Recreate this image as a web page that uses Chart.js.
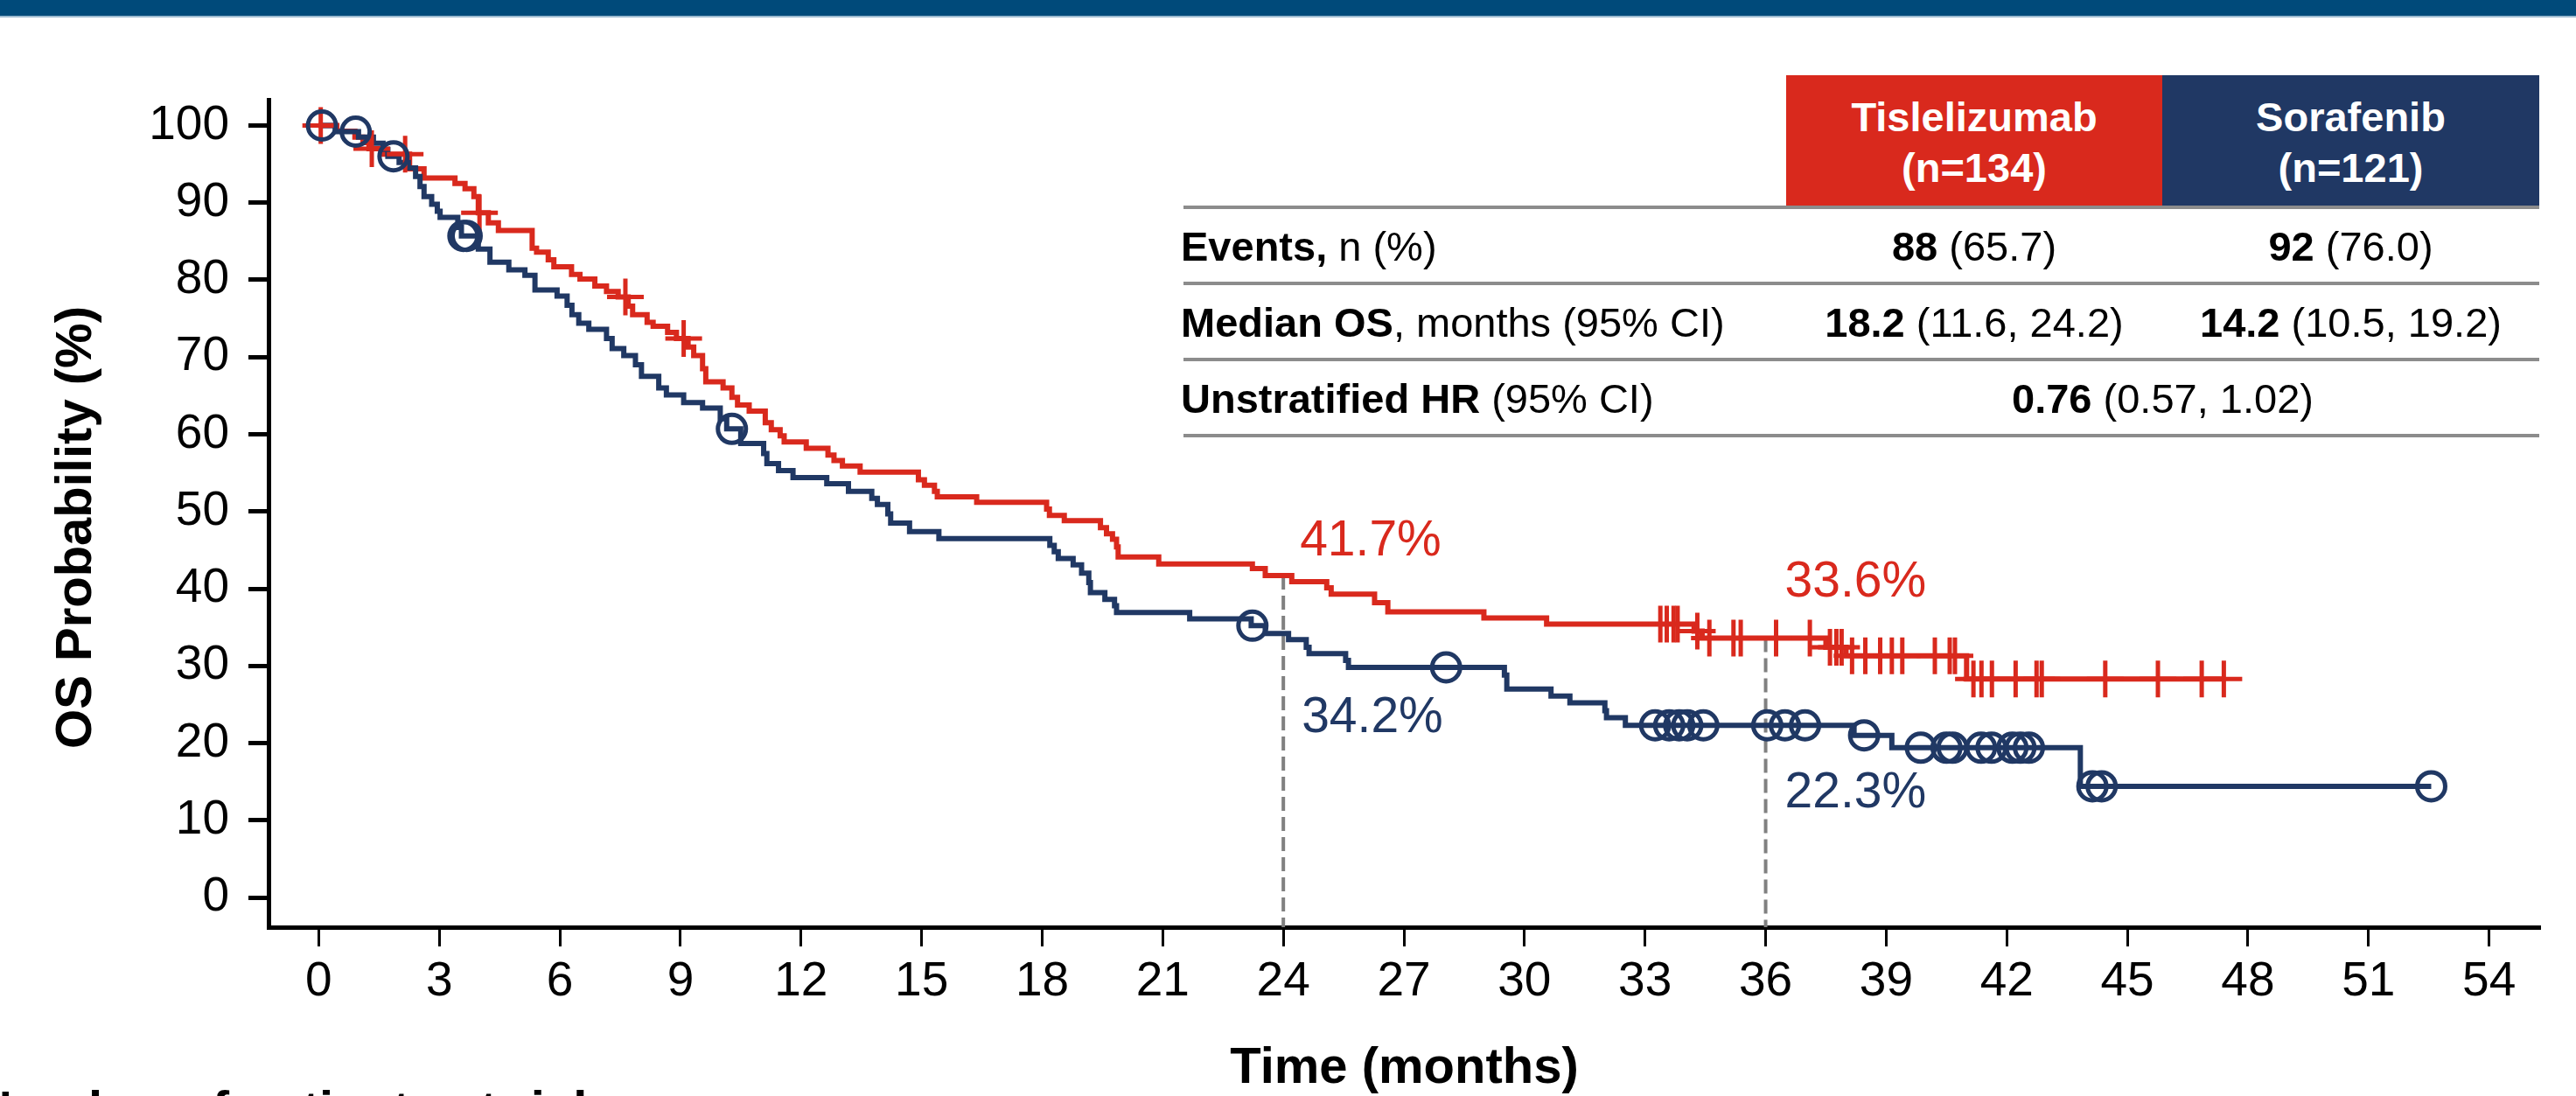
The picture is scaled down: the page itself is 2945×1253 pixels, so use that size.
<!DOCTYPE html>
<html>
<head>
<meta charset="utf-8">
<script src="https://cdn.jsdelivr.net/npm/chart.js@4.4.1/dist/chart.umd.min.js"></script>
<style>
    html, body { margin: 0; padding: 0; background: #fff; }
    #wrap { position: relative; width: 2945px; height: 1253px; overflow: hidden; font-family: "Liberation Sans", Arial, sans-serif; }
    #chart { position: absolute; left: 0; top: 0; }
    .banner { position: absolute; left: 0; top: 0; width: 2945px; height: 18px; background: #004a7a; border-bottom: 2px solid #9dbbd0; }
    .t { position: absolute; font-size: 47px; line-height: 47px; white-space: nowrap; color: #000; }
</style>
</head>
<body>
<div id="wrap">
    <canvas id="chart" width="2945" height="1253"></canvas>
    <div class="banner"></div>
    <div id="tbl"></div>
</div>
<script>
// ---- data ----
var xTicks = [0, 3, 6, 9, 12, 15, 18, 21, 24, 27, 30, 33, 36, 39, 42, 45, 48, 51, 54];
var yTicks = [0, 10, 20, 30, 40, 50, 60, 70, 80, 90, 100];

// Tislelizumab (red): time of each drop, survival after it
var tisTime = [0, 0.45, 0.9, 1.1, 1.25, 1.6, 2.26, 2.62, 3.39, 3.64, 3.86, 3.97, 4.22, 4.47, 5.31, 5.42, 5.71, 5.85,
    6.29, 6.5, 6.87, 7.16, 7.45, 7.7, 7.81, 8.17, 8.32, 8.68, 8.9, 9.19, 9.33, 9.55, 9.63, 10.06, 10.28, 10.42,
    10.71, 11.11, 11.26, 11.48, 11.58, 12.13, 12.67, 12.82, 13.03, 13.47, 14.92, 15.07, 15.32, 15.39, 16.37,
    18.11, 18.18, 18.55, 19.45, 19.6, 19.75, 19.85, 19.89, 20.9, 23.23, 23.55, 24.21, 25.08, 25.19, 26.27, 26.6,
    28.99, 30.55, 34.22, 34.42, 37.5, 38.0, 41.0, 47.4];
var tisSurv = [100, 99.25, 98.5, 97.8, 97.0, 96.3, 94.4, 93.2, 92.5, 91.8, 90.8, 88.7, 87.4, 86.4, 84.1, 83.6, 82.6, 81.7,
    80.7, 80.1, 79.2, 78.5, 77.8, 76.6, 75.5, 74.5, 74.0, 73.2, 72.4, 71.3, 70.2, 68.5, 66.8, 66.0, 64.8, 63.8,
    63.0, 61.5, 60.6, 59.8, 59.0, 58.2, 57.3, 56.6, 55.9, 55.1, 54.1, 53.4, 52.6, 51.9, 51.2,
    50.3, 49.5, 48.8, 47.9, 47.1, 46.4, 45.4, 44.1, 43.2, 42.6, 41.7, 40.9, 40.1, 39.3, 38.2, 37.0,
    36.2, 35.4, 34.5, 33.6, 32.4, 31.3, 28.3, 28.3];
var tisCensor = [0.05, 1.32, 2.15, 4.0, 7.63, 9.08, 33.38, 33.54, 33.71, 33.81, 34.3, 34.6, 35.2, 35.38, 36.26, 37.1,
    37.6, 37.76, 37.89, 38.15, 38.48, 38.85, 39.14, 39.4, 40.21, 40.58, 40.71, 41.17, 41.37, 41.63, 42.22, 42.74,
    42.87, 44.45, 45.76, 46.85, 47.4];

// Sorafenib (navy)
var sorTime = [0, 0.41, 0.99, 1.36, 1.6, 1.72, 2.0, 2.23, 2.41, 2.52, 2.62, 2.81, 2.95, 3.02, 3.46, 3.55, 3.97, 4.26,
    4.73, 5.13, 5.38, 5.93, 6.18, 6.3, 6.47, 6.72, 7.16, 7.3, 7.59, 7.88, 8.03, 8.46, 8.65, 9.08, 9.55, 9.99, 10.15,
    10.5, 11.07, 11.15, 11.44, 11.8, 12.64, 13.18, 13.76, 13.9, 14.16, 14.23, 14.7, 15.43, 18.19, 18.3, 18.4, 18.77,
    18.98, 19.16, 19.2, 19.56, 19.8, 19.85, 21.67, 23.2, 23.55, 24.13, 24.57, 24.64, 25.55, 25.62, 29.5, 29.56,
    30.66, 31.13, 32.0, 32.04, 32.51, 38.2, 39.14, 43.83, 52.56];
var sorSurv = [100, 99.2, 98.5, 97.7, 96.9, 96.0, 95.2, 94.5, 93.4, 92.1, 90.8, 89.8, 88.9, 88.1, 86.8, 85.7, 84.0, 82.3,
    81.3, 80.6, 78.7, 77.9, 76.7, 75.5, 74.4, 73.6, 72.4, 71.1, 70.2, 69.0, 67.5, 66.0, 65.1, 64.1, 63.4, 62.0, 60.7,
    58.8, 57.5, 56.2, 55.3, 54.4, 53.6, 52.6, 51.7, 50.9, 49.7, 48.5, 47.4, 46.5, 45.6, 44.8, 43.9, 43.1,
    42.0, 40.8, 39.5, 38.6, 37.8, 36.9, 36.1, 35.2, 34.2, 33.4, 32.4, 31.6, 30.7, 29.8, 28.8, 27.0,
    26.1, 25.2, 24.2, 23.3, 22.3, 21.0, 19.4, 14.4, 14.4];
var sorCensor = [0.08, 0.92, 1.86, 3.6, 3.68, 10.28, 23.23, 28.05, 33.25, 33.6, 33.85, 34.05, 34.45, 36.04, 36.48,
    36.98, 38.45, 39.86, 40.5, 40.65, 41.36, 41.62, 42.14, 42.34, 42.55, 44.13, 44.36, 52.56];

var landmarkMonths = [24, 36];
var tisLandmark = [41.7, 33.6];
var sorLandmark = [34.2, 22.3];

// table
var armNames = ["Tislelizumab", "Sorafenib"];
var armN = [134, 121];
var eventsN = ["88", "92"];
var eventsPct = ["65.7", "76.0"];
var medianOS = ["18.2", "14.2"];
var medianCI = ["11.6, 24.2", "10.5, 19.2"];
var hrValue = "0.76";
var hrCI = "0.57, 1.02";

var RED = '#d9291d';
var NAVY = '#203864';
var FONT = '"Liberation Sans", Arial, sans-serif';

function stepPoints(times, surv) {
    return times.map(function (t, i) { return { x: t, y: surv[i] }; });
}
function survAt(times, surv, t) {
    var v = surv[0];
    for (var i = 0; i < times.length; i++) {
        if (times[i] <= t) v = surv[i];
    }
    return v;
}
function censorPoints(c, times, surv) {
    return c.map(function (t) { return { x: t, y: survAt(times, surv, t) }; });
}

// landmark labels: offset from the value's pixel (style only)
var landmarkLabels = [
    { arm: 0, i: 0, dx: 19, dy: -23 },
    { arm: 0, i: 1, dx: 22, dy: -47 },
    { arm: 1, i: 0, dx: 21, dy: 113 },
    { arm: 1, i: 1, dx: 22, dy: 94 }
];

var overlay = {
    id: 'overlay',
    beforeDatasetsDraw: function (chart) {
        var ctx = chart.ctx, x = chart.scales.x, y = chart.scales.y;
        ctx.save();
        ctx.strokeStyle = '#808080';
        ctx.lineWidth = 4;
        ctx.setLineDash([16, 7]);
        landmarkMonths.forEach(function (m, i) {
            var px = x.getPixelForValue(m);
            ctx.beginPath();
            ctx.moveTo(px, y.getPixelForValue(tisLandmark[i]));
            ctx.lineTo(px, chart.chartArea.bottom);
            ctx.stroke();
        });
        ctx.restore();
    },
    afterDraw: function (chart) {
        var ctx = chart.ctx, x = chart.scales.x, y = chart.scales.y;
        ctx.save();
        ctx.font = '57px ' + FONT;
        ctx.textAlign = 'left';
        ctx.textBaseline = 'alphabetic';
        landmarkLabels.forEach(function (l) {
            var vals = l.arm === 0 ? tisLandmark : sorLandmark;
            ctx.fillStyle = l.arm === 0 ? RED : NAVY;
            ctx.fillText(vals[l.i].toFixed(1) + '%', x.getPixelForValue(landmarkMonths[l.i]) + l.dx,
                y.getPixelForValue(vals[l.i]) + l.dy);
        });

        ctx.fillStyle = '#000';
        ctx.font = 'bold 58px ' + FONT;
        ctx.textAlign = 'center';
        ctx.fillText('Time (months)', (chart.chartArea.left + chart.chartArea.right) / 2, 1238);
        ctx.save();
        ctx.translate(104, 603);
        ctx.rotate(-Math.PI / 2);
        ctx.fillText('OS Probability (%)', 0, 0);
        ctx.restore();

        ctx.textAlign = 'left';
        ctx.fillText('Number of patients at risk', -28, 1288);
        ctx.restore();
    }
};

var ctxChart = document.getElementById('chart').getContext('2d');
var chart = new Chart(ctxChart, {
    type: 'scatter',
    plugins: [overlay],
    data: {
        datasets: [{
            label: 'Sorafenib censored',
            data: censorPoints(sorCensor, sorTime, sorSurv),
            showLine: false,
            pointStyle: 'circle',
            pointRadius: 16,
            pointBorderWidth: 5,
            pointBorderColor: NAVY,
            pointBackgroundColor: 'rgba(0,0,0,0)'
        }, {
            label: 'Tislelizumab censored',
            data: censorPoints(tisCensor, tisTime, tisSurv),
            showLine: false,
            pointStyle: 'cross',
            pointRadius: 21,
            pointBorderWidth: 5,
            pointBorderColor: RED,
            pointBackgroundColor: RED
        }, {
            label: 'Sorafenib',
            data: stepPoints(sorTime, sorSurv),
            showLine: true,
            stepped: 'before',
            borderColor: NAVY,
            borderWidth: 6,
            pointRadius: 0,
            fill: false
        }, {
            label: 'Tislelizumab',
            data: stepPoints(tisTime, tisSurv),
            showLine: true,
            stepped: 'before',
            borderColor: RED,
            borderWidth: 6,
            pointRadius: 0,
            fill: false
        }]
    },
    options: {
        responsive: false,
        animation: false,
        devicePixelRatio: 1,
        layout: { padding: { left: 0, top: 114, right: 41, bottom: 0 } },
        plugins: {
            legend: { display: false },
            tooltip: { enabled: false }
        },
        scales: {
            x: {
                type: 'linear',
                min: -1.249,
                max: 55.27,
                afterFit: function (s) { s.height = 193; },
                afterBuildTicks: function (s) { s.ticks = xTicks.map(function (v) { return { value: v }; }); },
                grid: { drawOnChartArea: false, drawTicks: true, tickLength: 22, tickWidth: 3, tickColor: '#000' },
                border: { display: true, color: '#000', width: 5 },
                ticks: { autoSkip: false, maxRotation: 0, padding: 8, color: '#000', font: { family: FONT, size: 55 } }
            },
            y: {
                type: 'linear',
                min: -3.85,
                max: 103.34,
                afterFit: function (s) { s.width = 307; },
                afterBuildTicks: function (s) { s.ticks = yTicks.map(function (v) { return { value: v }; }); },
                grid: { drawOnChartArea: false, drawTicks: true, tickLength: 23, tickWidth: 5, tickColor: '#000' },
                border: { display: true, color: '#000', width: 5 },
                ticks: { padding: 22, color: '#000', font: { family: FONT, size: 55 } }
            }
        }
    }
});

// ---- summary table (html text) ----
var tbl = document.getElementById('tbl');
var colEdges = [1353, 2042, 2472, 2903];
var ruleY = [237, 324, 411, 498];
var rowTop = [258, 345, 432];

function place(html, css) {
    var d = document.createElement('div');
    d.className = 't';
    d.innerHTML = html;
    Object.assign(d.style, css);
    tbl.appendChild(d);
    return d;
}
function colCss(i, top) {
    return { left: colEdges[i + 1] + 'px', width: (colEdges[i + 2] - colEdges[i + 1]) + 'px', textAlign: 'center', top: top + 'px' };
}

armNames.forEach(function (name, i) {
    place('', { left: colEdges[i + 1] + 'px', top: '86px', width: (colEdges[i + 2] - colEdges[i + 1]) + 'px', height: '151px', background: i === 0 ? RED : NAVY });
    var h1 = place('<b>' + name + '</b>', colCss(i, 110)); h1.style.color = '#fff';
    var h2 = place('<b>(n=' + armN[i] + ')</b>', colCss(i, 168)); h2.style.color = '#fff';
    place('<b>' + eventsN[i] + '</b> (' + eventsPct[i] + ')', colCss(i, rowTop[0]));
    place('<b>' + medianOS[i] + '</b> (' + medianCI[i] + ')', colCss(i, rowTop[1]));
});
ruleY.forEach(function (yy) {
    place('', { left: colEdges[0] + 'px', top: (yy - 2) + 'px', width: (colEdges[3] - colEdges[0]) + 'px', height: '4px', background: '#8c8c8c' });
});
place('<b>Events,</b> n (%)', { left: '1350px', top: rowTop[0] + 'px' });
place('<b>Median OS</b>, months (95% CI)', { left: '1350px', top: rowTop[1] + 'px' });
place('<b>Unstratified HR</b> (95% CI)', { left: '1350px', top: rowTop[2] + 'px' });
place('<b>' + hrValue + '</b> (' + hrCI + ')', { left: colEdges[1] + 'px', width: (colEdges[3] - colEdges[1]) + 'px', textAlign: 'center', top: rowTop[2] + 'px' });
</script>
</body>
</html>
